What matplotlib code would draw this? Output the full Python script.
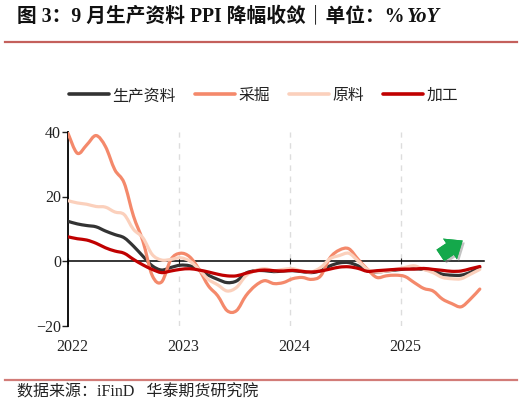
import numpy as np
import matplotlib
matplotlib.use('Agg')
import matplotlib.pyplot as plt
from matplotlib.path import Path
from matplotlib.patches import PathPatch, FancyArrowPatch
from matplotlib.lines import Line2D
from matplotlib.transforms import ScaledTranslation
import matplotlib.patheffects as pe

plt.rcParams['font.family'] = ['Liberation Serif', 'Noto Sans CJK SC']

# 读图估计的月度数据
names = ['生产资料', '采掘', '原料', '加工']
colors = ['#333333', '#F4896B', '#FBD0BC', '#C00000']
shengchan = [12.3, 11.5, 11, 10.6, 9.3, 8.2, 7.2, 4.6, 1.5, -1.5, -2.8, -2, -1.3, -1.5, -2.8,
             -4.4, -5.7, -6.7, -6.2, -3.8, -3, -3, -3.3, -3.1, -3, -3.3, -3.6, -3, -1.5, -0.6,
             -0.5, -1.5, -3.1, -3.4, -3.1, -2.8, -2.5, -2.4, -2.6, -3, -4.1, -4.4, -4.4, -3.5, -2]
caijue = [39.6, 33.4, 36, 38.9, 35.5, 28.3, 24.2, 13.9, 6.2, -4.5, -6.5, 0.5, 2.4, 1.3, -2.6,
          -7.7, -10.8, -15.4, -15.4, -10.8, -7.7, -6.1, -7, -6.7, -5.5, -5.1, -5.7, -4.6, 1, 3.4,
          3.8, 0.5, -2.6, -5.1, -4.6, -4.4, -4.8, -6.7, -8.5, -9.3, -11.8, -13.2, -14.2, -11.8, -8.7]
yuanliao = [18.7, 18, 17.6, 16.9, 16.7, 15.2, 14.4, 9.8, 7.2, 2, 0.3, 0.5, 1, 0, -2.6,
            -5.7, -7.4, -9.3, -8.2, -4.6, -3, -2.4, -3, -2.6, -2.4, -3.1, -3.4, -2, 0.7, 1.7,
            2.4, 0, -2.6, -3.4, -3.1, -2.6, -2, -1.5, -2.6, -3.6, -5.1, -5.5, -5.5, -4.1, -2.6]
jiagong = [7.5, 6.9, 6.5, 5.5, 4.1, 3.1, 2.4, 0.5, -1.2, -2.6, -3.6, -3.1, -2.6, -2.4, -2.8,
           -3.4, -4.1, -4.6, -4.6, -3.8, -3.1, -2.8, -3, -3.1, -2.9, -3.2, -3.4, -3.1, -2.5, -1.9,
           -1.8, -2.3, -3.2, -3, -2.8, -2.6, -2.5, -2.5, -2.3, -2.6, -2.9, -3.2, -3.1, -2.4, -1.7]
series = [shengchan, caijue, yuanliao, jiagong]
years = [2022, 2023, 2024, 2025]
yticks = [-20, 0, 20, 40]
x = 2022 + np.arange(45) * 3.71 / 44

W, H = 522, 404


def smooth_path(xs, ys):
    # Excel 式平滑线
    xs, ys = np.asarray(xs), np.asarray(ys, dtype=float)
    verts = [(xs[0], ys[0])]
    codes = [Path.MOVETO]
    n = len(xs)
    for i in range(n - 1):
        a, b = max(i - 1, 0), min(i + 2, n - 1)
        verts.append((xs[i] + (xs[i + 1] - xs[a]) / 6, ys[i] + (ys[i + 1] - ys[a]) / 6))
        verts.append((xs[i + 1] - (xs[b] - xs[i]) / 6, ys[i + 1] - (ys[b] - ys[i]) / 6))
        verts.append((xs[i + 1], ys[i + 1]))
        codes += [Path.CURVE4] * 3
    return Path(verts, codes)


fig = plt.figure(figsize=(W / 100, H / 100), dpi=100)
ax = fig.add_axes([68 / W, 1 - 325.5 / H, 416 / W, 193.5 / H])
ax.set_xlim(2022, 2022 + 416 / 111)
ax.set_ylim(-20, 40)

for y_ in years[1:]:
    ax.axvline(y_, color='#DDDDDD', lw=1, ls=(0, (4, 4)), zorder=1)

for vals, c in zip(series, colors):
    ax.add_patch(PathPatch(smooth_path(x, vals), fill=False, ec=c, lw=2.3,
                           capstyle='round', joinstyle='round', zorder=3))

for s in ['top', 'right']:
    ax.spines[s].set_visible(False)
ax.spines['bottom'].set_position(('data', 0))
ax.spines['bottom'].set_zorder(2)
ax.spines['left'].set_linewidth(1.3)
ax.spines['bottom'].set_linewidth(1.1)
ax.set_yticks(yticks)
ax.set_xticks(years)
ax.tick_params(axis='y', labelsize=11.5, length=4, width=1, direction='out', pad=1, colors='#222222')
ax.tick_params(axis='x', labelsize=11.5, length=5, width=0.8, direction='inout', pad=54, colors='#222222')
shift = ScaledTranslation(3 / 72, 0, fig.dpi_scale_trans)
for lab in ax.get_xticklabels():
    lab.set_transform(lab.get_transform() + shift)

handles = [Line2D([], [], color=c, lw=2.6, solid_capstyle='round') for c in colors]
leg = fig.legend(handles, names, ncol=4, loc='center', bbox_to_anchor=(263.5 / W, 1 - 96 / H),
                 frameon=False, fontsize=11.4, handlelength=2.53, handletextpad=0.2,
                 columnspacing=1.2, borderpad=0, labelcolor='#222222')

# 绿色箭头
arrow = FancyArrowPatch((438 / W, 1 - 257 / H), (465 / W, 1 - 239 / H), transform=fig.transFigure,
                        arrowstyle='simple,head_length=11,head_width=18,tail_width=10',
                        color='#14A84B', lw=0, zorder=6,
                        path_effects=[pe.withSimplePatchShadow(offset=(1.5, -1.5), shadow_rgbFace='#888888', alpha=0.5),
                                      pe.Normal()])
fig.add_artist(arrow)

# 标题和来源
fig.text(17 / W, 1 - 22 / H, '图 3：9 月生产资料 PPI 降幅收敛｜单位：%', fontsize=14.2, fontweight='bold', color='#111111')
fig.text(407 / W, 1 - 22 / H, 'YoY', fontsize=14.8, fontweight='bold', style='italic', color='#111111',
         family='Liberation Serif')
fig.add_artist(Line2D([5 / W, 517 / W], [1 - 42 / H, 1 - 42 / H], color='#C4605C', lw=1.6))
fig.add_artist(Line2D([5 / W, 517 / W], [1 - 379.5 / H, 1 - 379.5 / H], color='#D27C78', lw=1.6))
fig.text(17 / W, 1 - 397 / H, '数据来源：iFinD   华泰期货研究院', fontsize=11.5, color='#222222')

fig.savefig('out.png', dpi=100)
